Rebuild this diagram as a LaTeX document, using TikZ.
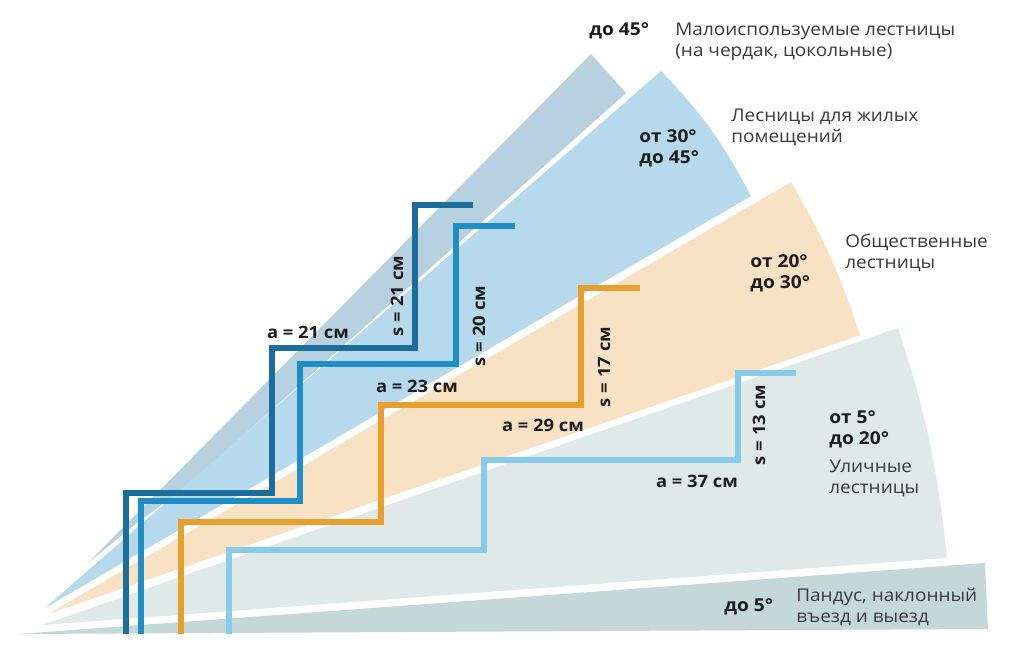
\documentclass[tikz,border=0pt]{standalone}
\usepackage{fontspec}
\setmainfont[FakeStretch=1.08]{Open Sans}
\definecolor{wedgetop}{HTML}{B8D1E0}
\definecolor{wedgeblue}{HTML}{B7D9ED}
\definecolor{wedgeorange}{HTML}{F9E1C4}
\definecolor{wedgepale}{HTML}{DEE9E8}
\definecolor{wedgeramp}{HTML}{C5D8D8}
\definecolor{stairdark}{HTML}{1B6E9B}
\definecolor{stairmid}{HTML}{1F8EC6}
\definecolor{stairorange}{HTML}{E99F2E}
\definecolor{stairpale}{HTML}{86CBEA}
\definecolor{textdark}{HTML}{1C1C1C}
\definecolor{textsoft}{HTML}{3A3A3A}
\begin{document}
\begin{tikzpicture}[x=0.02cm,y=-0.02cm,
  stair/.style={line width=3.9pt,miter limit=10},
  angletext/.style={anchor=west,align=left,inner sep=0pt,text=textdark,font=\fontsize{10.1}{11.9}\selectfont\bfseries},
  nametext/.style={anchor=west,align=left,inner sep=0pt,text=textsoft,font=\fontsize{10}{11.9}\selectfont},
  sizetext/.style={inner sep=0pt,text=textdark,font=\fontsize{9.7}{11}\selectfont\bfseries}]
\useasboundingbox (0,0) rectangle (1012,656);
% wedges
\fill[wedgetop] (88,563) -- (591,54) -- (626,93) -- (182,490) -- (138,522) -- cycle;
\fill[wedgeblue] (45,608) -- (661,71) to[bend left=8] (751,196) -- cycle;
\fill[wedgeorange] (48,614) -- (791,182) to[bend left=6] (860,335) -- cycle;
\fill[wedgepale] (42,625) -- (898,328) to[bend left=6] (947,558) -- cycle;
\fill[wedgeramp] (18,634) -- (985,563) -- (988,629) -- cycle;
% stairs
\draw[stair,stairdark] (126,634) |- (272,493) |- (415,348) |- (473,205);
\draw[stair,stairmid] (141,634) |- (300,501) |- (456,364) |- (515,226);
\draw[stair,stairorange] (181,634) |- (381,522) |- (581,405) |- (640,288);
\draw[stair,stairpale] (229,634) |- (484,550) |- (738,460) |- (796,373);
% angles
\node[angletext] (attic) at (589,31) {до 45°};
\node[angletext] (living) at (639,148) {от 30°\\до 45°};
\node[angletext] (public) at (750,273) {от 20°\\до 30°};
\node[angletext] (street) at (829,429) {от 5°\\до 20°};
\node[angletext] (ramp) at (724,607) {до 5°};
% names
\node[nametext] (atticname) at (675,42) {Малоиспользуемые лестницы\\(на чердак, цокольные)};
\node[nametext] (livingname) at (731,127) {Лесницы для жилых\\помещений};
\node[nametext] (publicname) at (845,253) {Общественные\\лестницы};
\node[nametext] (streetname) at (829,478) {Уличные\\лестницы};
\node[nametext] (rampname) at (796,607) {Пандус, наклонный\\въезд и выезд};
% sizes
\node[sizetext] (a1) at (308,332) {a = 21 см};
\node[sizetext] (a2) at (417,386) {a = 23 см};
\node[sizetext] (a3) at (543,425) {a = 29 см};
\node[sizetext] (a4) at (697,481) {a = 37 см};
\node[sizetext,rotate=90] (s1) at (397,296) {s = 21 см};
\node[sizetext,rotate=90] (s2) at (479,326) {s = 20 см};
\node[sizetext,rotate=90] (s3) at (604,367) {s = 17 см};
\node[sizetext,rotate=90] (s4) at (759,425) {s = 13 см};
\end{tikzpicture}
\end{document}
